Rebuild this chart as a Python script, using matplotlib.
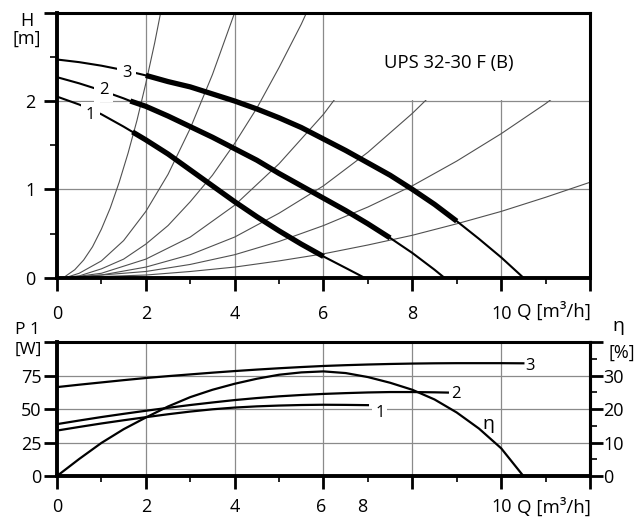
import numpy as np
import matplotlib.pyplot as plt
from matplotlib.patches import Rectangle

plt.rcParams['font.family'] = ['Open Sans', 'DejaVu Sans']

# Q-H pump curves, speed 1..3 (Q in m3/h, H in m)
q_s1 = np.array([0, 0.5, 1.0, 1.5, 1.7, 2.0, 2.5, 3.0, 3.5, 4.0, 4.5, 5.0, 5.5, 6.0, 6.5, 6.92])
h_s1 = np.array([2.05, 1.96, 1.85, 1.71, 1.65, 1.56, 1.40, 1.22, 1.04, 0.86, 0.69, 0.53, 0.38, 0.24, 0.11, 0.0])
q_s2 = np.array([0, 0.5, 1.0, 1.5, 1.65, 2.0, 2.5, 3.0, 3.5, 4.0, 4.5, 5.0, 5.5, 6.0, 6.5, 7.0, 7.5, 8.0, 8.5, 8.72])
h_s2 = np.array([2.27, 2.20, 2.12, 2.03, 2.00, 1.94, 1.83, 1.71, 1.59, 1.46, 1.33, 1.18, 1.04, 0.90, 0.76, 0.61, 0.45, 0.28, 0.09, 0.0])
q_s3 = np.array([0, 0.5, 1.0, 1.5, 2.0, 2.5, 3.0, 3.5, 4.0, 4.5, 5.0, 5.5, 6.0, 6.5, 7.0, 7.5, 8.0, 8.5, 9.0, 9.5, 10.0, 10.5])
h_s3 = np.array([2.47, 2.44, 2.40, 2.35, 2.29, 2.22, 2.16, 2.08, 2.0, 1.91, 1.81, 1.70, 1.57, 1.44, 1.30, 1.16, 1.0, 0.83, 0.64, 0.44, 0.23, 0.0])
# working range drawn bold
bold_s1 = (1.7, 6.0)
bold_s2 = (1.65, 7.5)
bold_s3 = (2.0, 9.0)

# system curves (Q, H)
sys_a = ([0.2, 0.4, 0.6, 0.8, 1.0, 1.2, 1.4, 1.6, 1.8, 2.0, 2.2, 2.4],
         [0.02, 0.09, 0.2, 0.35, 0.55, 0.79, 1.08, 1.41, 1.78, 2.2, 2.66, 3.17])
sys_b = ([0.25, 0.5, 1.0, 1.5, 2.0, 2.5, 3.0, 3.5, 4.0, 4.1],
         [0.01, 0.05, 0.19, 0.42, 0.75, 1.17, 1.69, 2.30, 3.0, 3.15])
sys_c = ([0.25, 0.5, 1, 1.5, 2, 2.5, 3, 3.5, 4, 4.5, 5, 5.5, 5.7],
         [0.01, 0.02, 0.1, 0.21, 0.38, 0.59, 0.86, 1.16, 1.52, 1.92, 2.38, 2.87, 3.09])
sys_d = ([0.25, 1, 2, 3, 4, 5, 6, 7],
         [0, 0.05, 0.21, 0.46, 0.82, 1.29, 1.85, 2.52])
sys_e = ([0.25, 1, 2, 3, 4, 5, 6, 7, 8, 9],
         [0, 0.03, 0.12, 0.26, 0.46, 0.73, 1.04, 1.42, 1.86, 2.35])
sys_f = ([0.25, 2, 3, 4, 5, 6, 7, 8, 9, 10, 11, 12],
         [0, 0.07, 0.15, 0.26, 0.41, 0.59, 0.8, 1.04, 1.32, 1.63, 1.97, 2.35])
sys_g = ([0.25, 2, 3, 4, 5, 6, 7, 8, 9, 10, 11, 12],
         [0, 0.03, 0.07, 0.12, 0.19, 0.27, 0.37, 0.48, 0.61, 0.75, 0.91, 1.08])

# power input P1 [W]
qp_s1 = [0, 0.5, 1, 1.5, 2, 2.5, 3, 3.5, 4, 4.5, 5, 5.5, 6, 6.5, 7]
p_s1 = [34, 36.7, 39.3, 41.7, 44, 46.2, 48.2, 49.9, 51.2, 52.1, 52.7, 53.1, 53.3, 53.2, 53.0]
qp_s2 = [0, 0.5, 1, 1.5, 2, 2.5, 3, 3.5, 4, 4.5, 5, 5.5, 6, 6.5, 7, 7.5, 8, 8.5, 8.8]
p_s2 = [38.8, 41.5, 44.1, 46.5, 48.8, 51, 53.1, 55, 56.8, 58.3, 59.6, 60.6, 61.4, 62, 62.5, 62.8, 62.8, 62.6, 62.4]
qp_s3 = [0, 0.5, 1, 1.5, 2, 2.5, 3, 3.5, 4, 4.5, 5, 5.5, 6, 6.5, 7, 7.5, 8, 8.5, 9, 9.5, 10, 10.5]
p_s3 = [66.5, 68.3, 70, 71.7, 73.3, 74.7, 76, 77.3, 78.5, 79.6, 80.6, 81.5, 82.3, 82.9, 83.4, 83.8,
        84.1, 84.3, 84.4, 84.4, 84.4, 84.3]
# efficiency [%]
q_eta = [0, 0.5, 1, 1.5, 2, 2.5, 3, 3.5, 4, 4.5, 5, 5.5, 6, 6.5, 7, 7.5, 8, 8.5, 9, 9.5, 10, 10.5]
eta = [0, 5.1, 9.9, 14, 17.5, 20.8, 23.6, 25.8, 27.6, 29.1, 30.3, 31.0, 31.3, 30.8, 29.6, 27.9,
       25.8, 22.9, 19.0, 14.2, 8.3, 0]

fig = plt.figure(figsize=(6.39, 5.2), dpi=100)
ax = fig.add_axes([0.0892, 0.466, 0.8341, 0.5096])
axb = fig.add_axes([0.0892, 0.0846, 0.8341, 0.2571])

def style(a):
    for s in ['left', 'bottom']:
        a.spines[s].set_linewidth(2.8)
    for s in ['top', 'right']:
        a.spines[s].set_linewidth(2.2)
    for s in a.spines.values():
        s.set_zorder(6)
    a.set_axisbelow(True)
    a.grid(True, which='major', color='#8a8a8a', linewidth=0.9)
    a.tick_params(which='major', direction='out', length=9.5, width=2, labelsize=13)
    a.tick_params(which='minor', direction='out', length=4.5, width=1.2)

# ---- top chart
style(ax)
ax.set_xlim(0, 12)
ax.set_ylim(0, 3)
ax.set_xticks(range(0, 13, 2))
ax.set_xticklabels(['0', '2', '4', '6', '8', '10', ''])
ax.set_xticks(range(1, 12, 2), minor=True)
ax.set_yticks([0, 1, 2, 3])
ax.set_yticklabels(['0', '1', '2', ''])
ax.set_yticks([0.5, 1.5, 2.5], minor=True)
ax.tick_params(axis='x', pad=10)
ax.tick_params(axis='y', pad=6)
ax.tick_params(axis='y', which='minor', length=5)

for qs, hs in [sys_a, sys_b, sys_c, sys_d, sys_e, sys_f, sys_g]:
    ax.plot(qs, hs, color='#505050', linewidth=0.8, zorder=2)

for q, h, (lo, hi) in [(q_s1, h_s1, bold_s1), (q_s2, h_s2, bold_s2), (q_s3, h_s3, bold_s3)]:
    ax.plot(q, h, color='black', linewidth=1.5, zorder=3)
    m = (q >= lo) & (q <= hi)
    ax.plot(q[m], h[m], color='black', linewidth=3.8, solid_capstyle='butt', zorder=3)

lab = dict(ha='center', va='center', fontsize=12, zorder=4,
           bbox=dict(facecolor='white', edgecolor='none', pad=3.5))
ax.text(1.57, 2.32, '3', **lab)
ax.text(1.05, 2.13, '2', **lab)
ax.text(0.75, 1.84, '1', **lab)

ax.add_patch(Rectangle((6.025, 2.015), 6, 1, facecolor='white', edgecolor='none', zorder=5))
ax.text(8.82, 2.43, 'UPS 32-30 F (B)', ha='center', va='center', fontsize=13.3, zorder=6)

fig.text(27 / 639, 1 - 21 / 520, 'H', ha='center', va='center', fontsize=13)
fig.text(27 / 639, 1 - 39 / 520, '[m]', ha='center', va='center', fontsize=13)
fig.text(517 / 639, 1 - 311 / 520, 'Q [m³/h]', ha='left', va='center', fontsize=13.5)

# ---- bottom chart
style(axb)
axb.set_xlim(0, 12)
axb.set_ylim(0, 100)
axb.set_xticks(range(0, 13, 2))
axb.set_xticklabels([])
axb.set_xticks(range(1, 12, 2), minor=True)
axb.set_yticks([0, 25, 50, 75, 100])
axb.set_yticklabels(['0', '25', '50', '75', ''])
axb.tick_params(axis='y', pad=1.5)

for x, t in zip([0, 2, 4, 5.95, 6.88, 10], ['0', '2', '4', '6', '8', '10']):
    axb.text(x, -0.23, t, transform=axb.get_xaxis_transform(), ha='center', va='center', fontsize=13)
fig.text(517 / 639, 1 - 507 / 520, 'Q [m³/h]', ha='left', va='center', fontsize=13.5)

axb.plot(qp_s1, p_s1, color='black', linewidth=1.6, zorder=3)
axb.plot(qp_s2, p_s2, color='black', linewidth=1.6, zorder=3)
axb.plot(qp_s3, p_s3, color='black', linewidth=1.6, zorder=3)
axb.text(10.66, 82.6, '3', ha='center', va='center', fontsize=12)
axb.text(8.99, 61.5, '2', ha='center', va='center', fontsize=12)
axb.text(7.27, 47, '1', ha='center', va='center', fontsize=12,
         bbox=dict(facecolor='white', edgecolor='none', pad=2))
axb.text(9.71, 39, 'η', ha='center', va='center', fontsize=14)

axe = axb.twinx()
axe.set_ylim(0, 40)
for s in ['left', 'top', 'bottom']:
    axe.spines[s].set_visible(False)
axe.spines['right'].set_linewidth(2.2)
axe.set_yticks([0, 10, 20, 30, 40])
axe.set_yticklabels(['0', '10', '20', '30', ''])
axe.set_yticks([5, 15, 25, 35], minor=True)
axe.tick_params(which='major', direction='out', length=9.5, width=2, labelsize=13, pad=0)
axe.tick_params(which='minor', direction='out', length=5, width=1.2)
axe.plot(q_eta, eta, color='black', linewidth=1.6)

fig.text(27.5 / 639, 1 - 330 / 520, 'P 1', ha='center', va='center', fontsize=12.5)
fig.text(28 / 639, 1 - 350 / 520, '[W]', ha='center', va='center', fontsize=12.5)
fig.text(618 / 639, 1 - 326 / 520, 'η', ha='center', va='center', fontsize=14)
fig.text(622 / 639, 1 - 353 / 520, '[%]', ha='center', va='center', fontsize=13)

fig.savefig('out.png', dpi=100)
